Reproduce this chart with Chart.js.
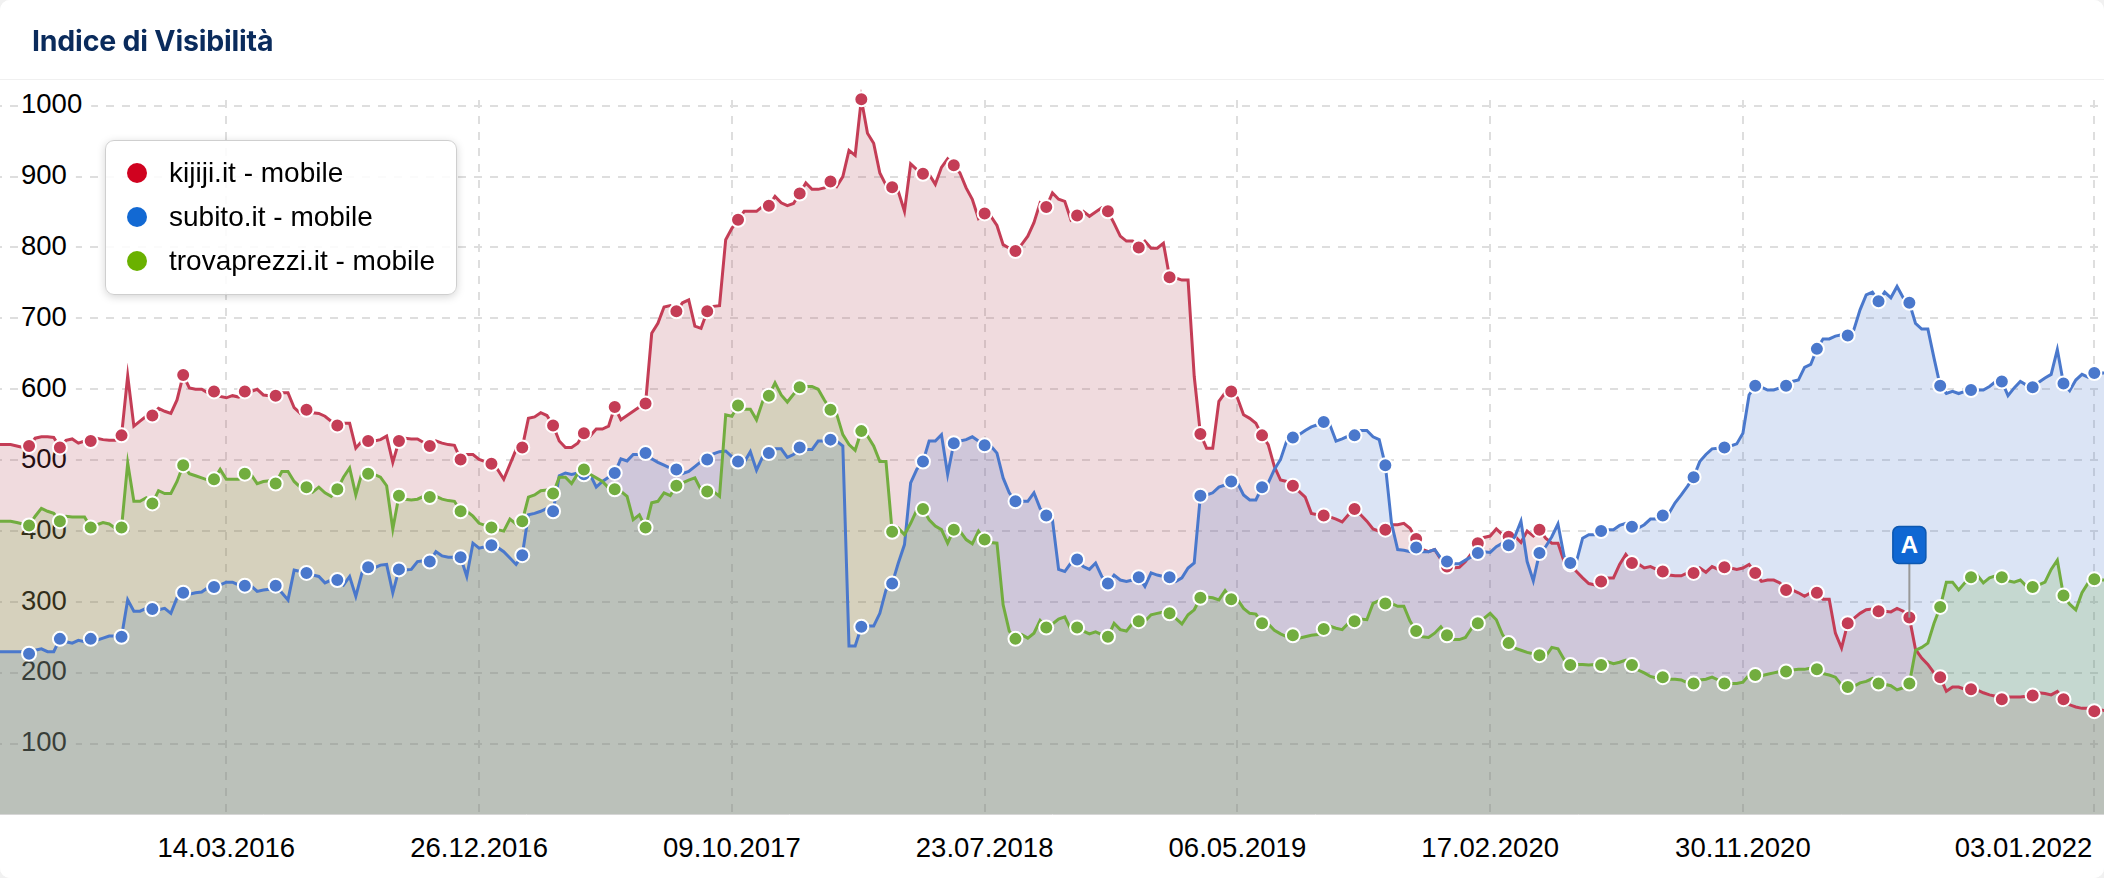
<!DOCTYPE html>
<html>
<head>
<meta charset="utf-8">
<title>Indice di Visibilità</title>
<script src="https://cdn.jsdelivr.net/npm/chart.js@4/dist/chart.umd.min.js"></script>
<style>
  html, body { margin: 0; padding: 0; background: #f1f1f1; }
  #card { position: relative; width: 2104px; height: 878px; background: #fff; border-radius: 10px; overflow: hidden; }
  #head { position: absolute; left: 0; top: 0; width: 100%; height: 79px; border-bottom: 1px solid #f0f0f0; box-sizing: content-box; }
  #head h2 { margin: 0; position: absolute; left: 32px; top: 23px; font: 700 28.5px/36px Inter, sans-serif; letter-spacing: -0.2px; color: #0a2b5c; }
  #chart { position: absolute; left: 0; top: 0; }
  #legend { position: absolute; left: 105px; top: 140px; width: 352px; height: 155px; box-sizing: border-box; border: 1px solid #cfcfcf; border-radius: 9px; background: rgba(255,255,255,.88); box-shadow: 0 2px 8px rgba(0,0,0,.17); font: 28px/44px "Liberation Sans", Arial, sans-serif; color: #000; padding-top: 10px; }
  #legend div { position: relative; height: 44px; padding-left: 63px; white-space: nowrap; }
  #legend i { position: absolute; left: 21px; top: 12px; width: 20px; height: 20px; border-radius: 50%; }
</style>
</head>
<body>
<div id="card">
  <canvas id="chart" width="2104" height="878"></canvas>
  <div id="head"><h2>Indice di Visibilità</h2></div>
  <div id="legend"></div>
</div>
<script>
const firstWeek = '2015-06-29';
const axisStart = '2015-07-01';
const axisEnd = '2022-01-14';
const seriesNames = ['kijiji.it - mobile', 'subito.it - mobile', 'trovaprezzi.it - mobile'];
const legendColors = ['#d0021f', '#1269d3', '#6ab100'];
const lineColors = ['#c43d56', '#4a78cc', '#72ad3f'];
const fillColors = ['rgba(180,75,90,.2)', 'rgba(74,120,204,.2)', 'rgba(110,172,58,.2)'];
const yTicks = [100, 200, 300, 400, 500, 600, 700, 800, 900, 1000];
const xTicks = ['2016-03-14', '2016-12-26', '2017-10-09', '2018-07-23', '2019-05-06', '2020-02-17', '2020-11-30', '2022-01-03'];
const noteIndex = 310;
const noteLabel = 'A';

// one value per week, a marker on every fifth one
const kijiji = [
  522,522,522,520,518, 520,531,533,533,532, 518,528,530,524,527, 527,531,529,528,528,
  535,619,548,555,562, 563,573,569,566,585, 620,602,600,600,595, 597,590,588,591,589,
  597,597,600,592,591, 591,595,595,574,566, 571,567,566,562,555, 549,552,552,517,527,
  527,527,529,534,497, 527,531,530,530,525, 520,527,524,522,521, 501,508,508,501,498,
  495,487,473,494,515, 518,559,561,567,563, 549,527,518,518,524, 538,534,544,544,548,
  575,557,563,569,575, 580,679,693,716,718, 710,722,726,689,686, 710,717,718,811,827,
  839,851,851,851,858, 859,872,863,859,862, 876,891,882,882,884, 893,886,900,937,930,
  1009,961,947,905,888, 885,879,851,918,910, 904,903,889,913,925, 916,905,884,868,841,
  848,844,831,804,799, 795,804,816,835,863, 857,877,868,865,839, 845,851,844,850,856,
  851,834,816,809,809, 800,809,799,799,806, 758,757,754,754,618, 537,517,517,583,595,
  597,588,564,559,552, 535,522,491,472,470, 464,456,448,425,423, 422,420,417,413,423,
  431,423,414,403,400, 402,409,409,411,404, 389,374,371,374,360, 350,348,349,357,369,
  383,391,393,403,395, 392,393,384,400,393, 402,390,383,383,357, 353,343,334,326,324,
  329,334,334,353,367, 355,354,348,350,346, 343,338,337,337,341, 341,348,342,350,346,
  349,348,346,348,353, 341,329,331,331,327, 317,317,313,308,313, 313,304,304,256,235,
  270,277,284,289,290, 287,287,286,291,287, 278,233,221,212,200, 194,174,180,180,177,
  177,176,172,169,167, 163,166,166,166,167, 168,172,171,169,174, 163,155,152,150,150,
  146,148,146
];
const subito = [
  230,230,230,230,230, 227,232,234,230,230, 248,244,242,246,244, 248,246,249,252,252,
  251,303,287,287,291, 290,289,291,284,306, 313,311,313,314,320, 321,324,328,328,324,
  323,323,315,317,318, 323,313,303,345,343, 341,338,336,327,331, 331,324,336,308,341,
  349,348,352,353,313, 346,345,346,357,358, 357,371,365,363,363, 363,336,383,376,378,
  380,377,371,362,353, 366,423,425,428,432, 428,478,482,480,482, 480,480,462,470,476,
  482,502,499,508,508, 510,502,497,493,489, 487,481,484,491,498, 501,509,512,513,505,
  498,497,512,486,505, 510,516,516,504,508, 518,515,515,527,527, 529,527,520,238,238,
  265,266,266,284,317, 326,355,381,468,487, 498,527,527,536,480, 524,527,529,533,527,
  521,520,510,475,454, 442,442,442,454,432, 422,416,346,343,355, 360,350,346,355,336,
  326,338,331,329,331, 335,322,341,338,336, 335,329,334,348,355, 450,451,454,462,465,
  470,468,451,444,444, 462,468,487,501,527, 532,536,542,547,550, 554,550,527,530,534,
  535,542,542,533,529, 493,411,374,373,371, 377,371,371,374,362, 357,354,354,359,364,
  369,371,370,378,383, 380,392,414,357,330, 369,378,392,410,364, 355,357,390,395,395,
  400,402,402,408,411, 406,404,409,417,417, 422,425,440,451,463, 476,498,508,516,517,
  518,520,523,538,592, 605,603,599,599,602, 605,611,613,631,635, 657,671,671,675,677,
  676,684,712,733,737, 724,737,729,745,729, 722,693,685,685,644, 605,594,597,594,597,
  599,599,599,604,611, 611,591,602,611,606, 603,610,616,621,656, 608,598,613,621,617,
  623,623,623
];
const trovaprezzi = [
  414,414,414,412,410, 408,421,432,428,425, 414,421,420,420,420, 405,409,412,410,404,
  405,496,442,442,447, 439,457,453,453,470, 493,481,478,475,472, 473,487,473,473,473,
  481,480,467,470,471, 467,484,484,470,462, 462,455,462,454,449, 459,476,489,451,482,
  481,480,476,464,403, 450,445,444,445,449, 448,449,445,443,442, 428,428,421,411,408,
  405,402,400,417,410, 414,448,451,457,458, 453,476,476,467,481, 487,480,475,470,461,
  459,456,449,416,423, 405,440,442,454,450, 464,468,472,475,458, 456,456,449,564,562,
  577,572,572,557,583, 591,609,592,582,593, 603,604,604,600,585, 571,565,536,522,514,
  541,534,520,498,498, 399,404,395,411,430, 431,416,407,402,383, 402,400,388,382,400,
  388,384,383,296,259, 248,254,249,256,274, 264,269,276,279,261, 264,259,255,258,254,
  251,270,261,259,270, 273,273,282,284,286, 284,277,269,282,289, 306,307,306,303,316,
  304,304,291,284,283, 270,269,260,255,251, 253,249,251,253,254, 262,266,263,261,270,
  273,276,275,298,302, 298,298,294,294,273, 259,251,250,256,265, 253,247,247,250,263,
  270,277,284,275,254, 242,235,232,229,227, 225,223,236,234,219, 211,212,212,211,212,
  211,216,213,215,218, 211,204,200,195,193, 194,191,191,190,186, 185,190,191,194,190,
  185,185,185,187,197, 197,196,198,200,202, 202,204,205,205,207, 205,199,197,194,183,
  180,181,186,188,192, 185,184,182,176,179, 185,232,236,242,270, 293,328,328,317,327,
  335,338,327,334,337, 335,330,328,331,322, 321,324,328,346,359, 309,297,289,313,327,
  332,331,331
];

const DAY = 86400000;
const toTime = s => Date.parse(s + 'T00:00:00Z');

function dateLabel(t) {
  const d = new Date(t);
  const p = n => String(n).padStart(2, '0');
  return p(d.getUTCDate()) + '.' + p(d.getUTCMonth() + 1) + '.' + d.getUTCFullYear();
}

const weeks = kijiji.map((v, i) => toTime(firstWeek) + i * 7 * DAY);
const toPoints = values => values.map((v, i) => ({ x: weeks[i], y: v }));
const lastTick = toTime(xTicks[xTicks.length - 1]);
const labelFont = '27.5px "Liberation Sans", Arial, sans-serif';

function makeDataset(values, i) {
  return {
    label: seriesNames[i],
    data: toPoints(values),
    order: 3 - i,
    fill: 'origin',
    clip: { left: 0, top: 12, right: 0, bottom: 0 },
    borderColor: lineColors[i],
    backgroundColor: fillColors[i],
    borderWidth: 3,
    tension: 0,
    pointBackgroundColor: lineColors[i],
    pointBorderColor: '#fff',
    pointBorderWidth: 2,
    pointRadius: ctx => (ctx.dataIndex >= 5 && ctx.dataIndex % 5 === 0) ? 7 : 0,
  };
}

// opaque canvas, so the tick text gets the same rendering as the page text
const canvas = document.getElementById('chart');
canvas.getContext('2d', { alpha: false });

const backgroundPlugin = {
  id: 'whiteBackground',
  beforeDraw(chart) {
    chart.ctx.save();
    chart.ctx.fillStyle = '#fff';
    chart.ctx.fillRect(0, 0, chart.width, chart.height);
    chart.ctx.restore();
  }
};

// the last date is right aligned so it stays inside the card
const lastLabelPlugin = {
  id: 'lastLabel',
  afterDraw(chart) {
    const { ctx, scales } = chart;
    ctx.save();
    ctx.font = labelFont;
    ctx.fillStyle = '#000';
    ctx.textAlign = 'right';
    ctx.textBaseline = 'middle';
    ctx.fillText(dateLabel(lastTick), scales.x.getPixelForValue(lastTick) - 2, 849);
    ctx.restore();
  }
};

const notePlugin = {
  id: 'note',
  afterDatasetsDraw(chart) {
    const { ctx, scales } = chart;
    const px = scales.x.getPixelForValue(weeks[noteIndex]);
    const py = scales.y.getPixelForValue(kijiji[noteIndex]);
    const bw = 33, bh = 37, top = py - 91;
    ctx.save();
    ctx.strokeStyle = '#999';
    ctx.lineWidth = 2;
    ctx.beginPath();
    ctx.moveTo(px, top + bh);
    ctx.lineTo(px, py);
    ctx.stroke();
    ctx.fillStyle = '#0f67d3';
    ctx.strokeStyle = '#0c57b0';
    ctx.lineWidth = 1.5;
    ctx.beginPath();
    ctx.roundRect(px - bw / 2, top, bw, bh, 6);
    ctx.fill();
    ctx.stroke();
    ctx.fillStyle = '#fff';
    ctx.font = 'bold 24px "Liberation Sans", Arial, sans-serif';
    ctx.textAlign = 'center';
    ctx.textBaseline = 'middle';
    ctx.fillText(noteLabel, px, top + bh / 2 + 1);
    ctx.restore();
  }
};

new Chart(canvas, {
  type: 'line',
  data: { datasets: [kijiji, subito, trovaprezzi].map(makeDataset) },
  plugins: [backgroundPlugin, lastLabelPlugin, notePlugin],
  options: {
    responsive: false,
    animation: false,
    parsing: false,
    layout: { padding: { top: 100, left: 0, right: 0, bottom: 0 } },
    plugins: {
      legend: { display: false },
      tooltip: { enabled: false },
      filler: { drawTime: 'beforeDatasetsDraw' },
    },
    scales: {
      x: {
        type: 'linear',
        min: toTime(axisStart),
        max: toTime(axisEnd),
        afterBuildTicks: s => { s.ticks = xTicks.map(d => ({ value: toTime(d) })); },
        afterFit: s => { s.height = 64; s.paddingLeft = 0; s.paddingRight = 0; },
        grid: { color: '#dedede', lineWidth: 2, drawTicks: false, z: -1 },
        border: { display: true, color: '#d6d6d6', width: 1, dash: [8, 8], z: 1 },
        ticks: {
          autoSkip: false,
          maxRotation: 0,
          color: '#000',
          padding: 19,
          font: { family: '"Liberation Sans", Arial, sans-serif', size: 27.5 },
          callback: v => (v === lastTick ? '' : dateLabel(v)),
        },
      },
      y: {
        min: 1,
        max: 1008,
        afterBuildTicks: s => { s.ticks = yTicks.map(v => ({ value: v })); },
        afterFit: s => { s.width = 0; },
        grid: { color: '#dedede', lineWidth: 2, drawTicks: false, z: -1 },
        border: { display: false, dash: [8, 8], dashOffset: 6 },
        ticks: {
          mirror: true,
          padding: 21,
          color: '#000',
          font: { family: '"Liberation Sans", Arial, sans-serif', size: 27.5 },
          showLabelBackdrop: true,
          backdropColor: '#fff',
          backdropPadding: { left: 3, right: 9, top: 1, bottom: 1 },
          callback: v => String(v),
        },
      },
    },
  },
});

const legendBox = document.getElementById('legend');
seriesNames.forEach((name, i) => {
  const row = document.createElement('div');
  const dot = document.createElement('i');
  dot.style.background = legendColors[i];
  row.appendChild(dot);
  row.appendChild(document.createTextNode(name));
  legendBox.appendChild(row);
});
</script>
</body>
</html>
